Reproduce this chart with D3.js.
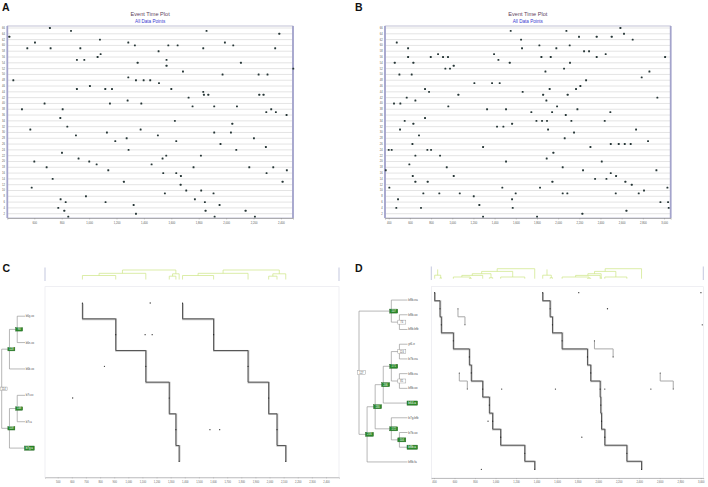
<!DOCTYPE html>
<html><head><meta charset="utf-8">
<script src="https://cdn.jsdelivr.net/npm/d3@7"></script>
<style>body{margin:0;background:#fff}svg{display:block}text{font-family:"Liberation Sans",Arial,sans-serif}</style>
</head><body><svg id="chart" width="708" height="487"></svg>
<script>
// ---------------- DATA ----------------
const rowTicksAB = [2,4,6,8,10,12,14,16,18,20,22,24,26,28,30,32,34,36,38,40,42,44,46,48,50,52,54,56,58,60,62,64,66];
const aXTicks = [600,800,1000,1200,1400,1600,1800,2000,2200,2400];
const bXTicks = [400,600,800,1000,1200,1400,1600,1800,2000,2200,2400,2600,2800,3000];
const cXTicks = [500,600,700,800,900,1000,1100,1200,1300,1400,1500,1600,1700,1800,1900,2000,2100,2200,2300,2400];
const dXTicks = [400,600,800,1000,1200,1400,1600,1800,2000,2200,2400,2600,2800,3000];

const aTimes = [714,868,1857,418,2388,1079,605,1286,1991,1334,1578,1646,2052,549,719,936,1833,2358,1507,1084,1062,911,965,1565,1354,2108,1565,2490,1685,1974,2237,2302,1286,447,1342,1398,1446,1510,1006,911,1118,1167,1600,1833,1838,1870,2242,2273,1726,1281,675,1152,1381,1755,1913,2079,510,807,2329,2293,2363,2441,790,1626,2045,841,571,1376,1130,1913,2035,904,1502,1274,2203,1191,1636,1959,2290,1288,2074,802,1563,1816,923,1536,600,1001,1055,1456,690,1762,2169,2344,1140,2443,1541,1636,2295,1670,734,1254,2412,1668,581,1709,1818,1553,1908,977,792,1772,829,1120,1845,1325,1952,775,819,1850,2142,1342,848,1916,2210];
const aRows  = [66,65,65,63,64,62,61,61,61,60,60,60,60,59,59,59,59,59,58,57,56,55,55,55,54,54,53,52,51,50,50,50,49,48,48,48,48,47,46,45,45,45,45,44,43,43,43,43,42,41,40,40,40,39,39,39,38,38,38,37,37,36,35,34,33,32,31,31,30,30,30,29,29,28,28,27,27,26,25,24,24,23,22,22,21,21,20,20,19,19,18,18,18,18,17,17,16,16,16,15,14,13,13,12,11,10,10,9,9,8,7,7,6,6,6,5,5,4,3,3,3,2,1,1,1];

const bTimes = [2588,1552,2078,2622,1650,2197,2364,2506,2704,476,1823,2109,583,1659,1983,2245,2292,866,1395,2449,583,797,913,960,1842,1930,2364,3010,1436,457,633,1543,2112,1014,935,979,2056,1880,2862,501,617,2789,2264,1209,1376,1448,2210,743,2169,1920,781,1665,1058,1858,2090,570,2937,652,1889,450,510,963,1990,1329,1508,2182,1747,1943,2493,2072,743,551,1795,1848,1895,2125,2440,633,1565,1423,1483,507,1905,2736,2150,686,2062,2849,624,2497,2572,2629,2685,1291,2305,400,428,765,800,1955,652,885,1892,1508,2412,595,948,2043,372,2235,2928,2497,627,1014,2547,2349,2456,652,768,1946,2635,2695,406,1473,1829,3032,2811,727,878,1071,1599,2043,2087,2544,2761,1203,488,1565,2966,3038,1256,472,705,1571,3044,2645,2229,1291,1801];
const bRows  = [66,65,65,64,62,63,63,63,62,61,60,60,59,59,59,58,58,57,57,57,56,56,56,56,56,56,56,56,55,54,54,54,54,53,52,52,52,51,51,50,50,49,48,47,47,47,46,45,45,45,44,44,43,43,43,42,42,41,41,40,40,39,39,38,38,38,37,37,37,36,35,34,34,34,34,34,34,33,33,32,32,31,31,31,30,29,28,27,26,26,26,26,26,25,25,24,24,24,24,23,22,22,21,20,20,19,18,18,17,17,17,16,15,15,15,14,14,13,13,13,13,12,11,11,11,11,10,9,9,9,9,9,9,9,9,8,7,7,6,6,5,4,4,4,4,3,2,1,1];

// panel C
const cLeafNames = ["b6g.ox","b6n.ox","b6b.ox","b7t.ox","b7t.a","b7g.a"];
const cLeafMarked = [false,false,false,false,false,true];
const cWhiteNodes = ["114"];
const cTree = {n:"114",c:[{n:"123",c:[{n:"90",c:[{l:0},{l:1}]},{l:2}]},{n:"118",c:[{n:"148",c:[{l:3},{l:4}]},{l:5}]}]};
const cSteps = [[675,911,1124,1290,1337,1360],[1384,1604,1848,1994,2053,2115]];
const cTopTree = [1.0,[0.65,[0.42,0,1],2],[0.6,[0.35,3,4],5]];
const cDotTimes = [1155,1119,1169,831,606,1578,1647];
const cDotRows  = [0,1,1,2,3,4,4];

// panel D
const dLeafNames = ["b8b.ea","b8b.ox","b8b.bfb","yt6.e","b7b.ea","b8b.ea","b8b.ox","b64.a","b7g.bfb","b7b.ox","b8b.a","b8b.fa"];
const dLeafMarked = [false,false,false,false,false,false,false,true,false,false,true,false];
const dWhiteNodes = ["127","74","124","81"];
const dTree = {n:"127",c:[{n:"107",c:[{l:0},{n:"74",c:[{l:1},{l:2}]}]},{n:"216",c:[{n:"130",c:[{n:"206",c:[{n:"171",c:[{n:"124",c:[{l:3},{l:4}]},{n:"81",c:[{l:5},{l:6}]}]},{l:7}]},{n:"172",c:[{l:8},{n:"104",c:[{l:9},{l:10}]}]}]},{l:11}]}]};
const dSteps = [[407,459,472,589,745,764,875,940,972,1050,1285,1382],[1460,1532,1555,1649,1896,1928,2020,2026,2033,2065,2280,2423]];
const dTopForest = [[0.35,0,[0.1,1,2]],[1.0,[0.73,[0.5,[0.33,[0.17,3,[0.05,4,5]],6],[0.1,7,8]],[0.17,9,10]],11]];
const dTopStems = [0.93,null];
const dExtraRows = [1,5,3,5];
const dExtraFrom = [634,647,1964,2605];
const dExtraTo   = [702,725,2146,2732];
const dDotTimes = [1811,3002,2091,3015,1060,1584,2065,2514,927,1841,862];
const dDotRows  = [0,0,1,2,6,6,6,6,8,9,11];

// ---------------- DRAWING ----------------
const svg = d3.select("#chart");
const fmt = d3.format(",");

function panelLabel(t, x, y){
  svg.append("text").attr("x",x).attr("y",y).text(t)
    .attr("font-size",10.5).attr("font-weight","bold").attr("fill","#111");
}

function eventPlot(times, rows, xDomain, xTicks, left, right){
  const top = 26, bottom = 218;
  const x = d3.scaleLinear().domain(xDomain).range([left,right]);
  const y = d3.scaleLinear().domain([0.52,66.69]).range([bottom,top]);
  const g = svg.append("g");
  const cx = (left+right)/2;
  g.append("text").attr("x",cx).attr("y",15.5).attr("text-anchor","middle")
    .attr("font-size",5.6).attr("fill","#5e3f5e").text("Event Time Plot");
  g.append("text").attr("x",cx).attr("y",23).attr("text-anchor","middle")
    .attr("font-size",4.6).attr("fill","#3a3ad0").text("All Data Points");
  g.append("rect").attr("x",left).attr("y",top).attr("width",right-left).attr("height",bottom-top)
    .attr("fill","#fff").attr("stroke","#9a9ab8").attr("stroke-width",0.6);
  g.selectAll("line.grid").data(rowTicksAB).join("line").attr("class","grid")
    .attr("x1",left).attr("x2",right).attr("y1",d=>y(d)).attr("y2",d=>y(d))
    .attr("stroke","#c8c8c8").attr("stroke-width",0.5);
  // side bars
  [left,right].forEach(xx=>g.append("line").attr("x1",xx).attr("x2",xx).attr("y1",top).attr("y2",bottom)
    .attr("stroke","#a4a4cc").attr("stroke-width",1.8));
  // y axis labels
  g.selectAll("text.yl").data(rowTicksAB).join("text").attr("class","yl")
    .attr("x",left-2.4).attr("y",d=>y(d)+0.9).attr("text-anchor","end")
    .attr("font-size",2.6).attr("fill","#555").text(d=>d);
  // x axis
  const ax = g.append("g").attr("transform",`translate(0,${bottom})`)
    .call(d3.axisBottom(x).tickValues(xTicks).tickFormat(fmt).tickSize(1.5).tickPadding(3));
  ax.select(".domain").attr("stroke","#888").attr("stroke-width",0.6);
  ax.selectAll(".tick line").attr("stroke","#888").attr("stroke-width",0.4);
  ax.selectAll("text").attr("font-size",2.7).attr("fill","#555").attr("font-family","Liberation Sans, Arial");
  // points
  g.selectAll("rect.pt").data(times).join("rect").attr("class","pt")
    .attr("x",(d)=>x(d)-0.95).attr("y",(d,i)=>y(rows[i])-0.95).attr("width",1.9).attr("height",1.9)
    .attr("rx",0.5).attr("fill","#263636");
}

eventPlot(aTimes, aRows, [403,2488], aXTicks, 7.3, 293);
eventPlot(bTimes, bRows, [365,3063], bXTicks, 385, 670.7);
panelLabel("A", 2, 11);
panelLabel("B", 355, 11);

function treePanel(o){
  const x = d3.scaleLinear().domain(o.xDomain).range([o.left,o.right]);
  const rowY = d3.scalePoint().domain(d3.range(o.names.length)).range([o.rowTop,o.rowBottom]);
  const g = svg.append("g");
  // main frame
  g.append("rect").attr("x",o.left).attr("y",o.plotTop).attr("width",o.right-o.left).attr("height",o.axisY-o.plotTop)
    .attr("fill","none").attr("stroke","#e4e4ec").attr("stroke-width",0.6);
  // top dendrogram frame
  [o.left,o.right].forEach(xx=>g.append("line").attr("x1",xx).attr("x2",xx).attr("y1",o.topY0).attr("y2",o.topY1)
    .attr("stroke","#aab0d0").attr("stroke-width",0.7));
  // axis
  const ax = g.append("g").attr("transform",`translate(0,${o.axisY})`)
    .call(d3.axisBottom(x).tickValues(o.ticks).tickFormat(fmt).tickSize(1.2).tickPadding(2.4));
  ax.select(".domain").attr("stroke","#999").attr("stroke-width",0.6);
  ax.selectAll(".tick line").attr("stroke","#999").attr("stroke-width",0.4);
  ax.selectAll("text").attr("font-size",2.6).attr("fill","#666").attr("font-family","Liberation Sans, Arial");

  // top dendrograms
  const hy = h => o.topBase - h*(o.topBase-o.topTop);
  o.steps.forEach(times=>{
    o.topForest.forEach((tree,ti)=>{
      function walk(node){
        if (typeof node === "number") return {x:x(times[node]), y:o.topBase};
        const A = walk(node[1]), B = walk(node[2]), yy = hy(node[0]);
        g.append("path").attr("d",`M${A.x},${A.y}V${yy}H${B.x}V${B.y}`)
          .attr("fill","none").attr("stroke","#cde584").attr("stroke-width",0.7);
        return {x:(A.x+B.x)/2, y:yy};
      }
      const r = walk(tree);
      const st = o.topStems ? o.topStems[ti] : null;
      if (st) g.append("line").attr("x1",r.x).attr("x2",r.x).attr("y1",r.y).attr("y2",hy(st))
        .attr("stroke","#cde584").attr("stroke-width",0.7);
    });
  });

  // extra short step pieces
  if (o.extraRows){
    o.extraRows.forEach((r,i)=>{
      const y0 = rowY(r), y1 = rowY(r+1), m=(y0+y1)/2;
      const x0 = x(o.extraFrom[i]), x1 = x(o.extraTo[i]);
      g.append("path").attr("d",`M${x0},${y0}V${m}H${x1}V${y1}`).attr("fill","none")
        .attr("stroke","#a8a8a8").attr("stroke-width",1);
      [[x0,y0],[x1,y1]].forEach(p=>g.append("circle").attr("cx",p[0]).attr("cy",p[1]).attr("r",0.55).attr("fill","#333"));
    });
  }
  // step lines
  o.steps.forEach(times=>{
    const pts = [];
    times.forEach((t,i)=>{
      const yy = rowY(i);
      if (i===0) pts.push([x(t),yy]);
      else { const m=(rowY(i-1)+yy)/2; pts.push([x(times[i-1]),m]); pts.push([x(t),m]); }
    });
    pts.push([x(times[times.length-1]), rowY(times.length-1)]);
    g.append("path").attr("d",d3.line()(pts)).attr("fill","none")
      .attr("stroke","#c4c4c4").attr("stroke-width",1.8).attr("transform","translate(0.4,0.4)");
    g.append("path").attr("d",d3.line()(pts)).attr("fill","none")
      .attr("stroke","#4a4a4a").attr("stroke-width",0.9);
    g.selectAll(null).data(times).join("circle").attr("cx",d=>x(d)).attr("cy",(d,i)=>rowY(i))
      .attr("r",0.6).attr("fill","#222");
  });
  // scattered dots
  g.selectAll(null).data(o.dotTimes).join("circle").attr("cx",d=>x(d)).attr("cy",(d,i)=>rowY(o.dotRows[i]))
    .attr("r",0.65).attr("fill","#333");

  // left tree
  const root = d3.hierarchy(o.tree, d=>d.c);
  d3.cluster().size([o.rowBottom-o.rowTop, o.treeRight-o.treeLeft]).separation(()=>1)(root);
  const X = d => o.treeLeft + d.y, Y = d => o.rowTop + d.x;
  root.descendants().forEach(nd=>{
    if (nd.children){
      const ys = nd.children.map(Y);
      g.append("line").attr("x1",X(nd)).attr("x2",X(nd)).attr("y1",d3.min(ys)).attr("y2",d3.max(ys))
        .attr("stroke","#888").attr("stroke-width",0.6);
      nd.children.forEach(ch=>g.append("line").attr("x1",X(nd)).attr("x2",X(ch)).attr("y1",Y(ch)).attr("y2",Y(ch))
        .attr("stroke","#888").attr("stroke-width",0.6));
    }
  });
  root.descendants().forEach(nd=>{
    if (nd.children){
      const white = o.white.includes(nd.data.n);
      const w = o.boxW, h = o.boxH;
      g.append("rect").attr("x",X(nd)-1.6).attr("y",Y(nd)-h/2).attr("width",w).attr("height",h)
        .attr("fill",white?"#fff":"#2b8a2b").attr("stroke",white?"#8a8a8a":"#1d5e1d").attr("stroke-width",0.4);
      g.append("text").attr("x",X(nd)-1.6+w/2).attr("y",Y(nd)+0.95).attr("text-anchor","middle")
        .attr("font-size",2.6).attr("fill",white?"#555":"#fff").text(nd.data.n);
    } else {
      const i = nd.data.l, name = o.names[i];
      if (o.marked[i]){
        const w = name.length*o.labelSize*0.52+2.5;
        g.append("rect").attr("x",X(nd)-0.5).attr("y",Y(nd)-2.1).attr("width",w).attr("height",4.2)
          .attr("fill","#2b8a2b").attr("stroke","#1d5e1d").attr("stroke-width",0.4);
        g.append("text").attr("x",X(nd)+0.8).attr("y",Y(nd)+1).attr("font-size",o.labelSize)
          .attr("fill","#fff").text(name);
      } else {
        g.append("text").attr("x",X(nd)+0.7).attr("y",Y(nd)+1).attr("font-size",o.labelSize)
          .attr("fill","#555").text(name);
      }
    }
  });
}

treePanel({xDomain:[410,2492], left:45, right:339, ticks:cXTicks, axisY:477.3, plotTop:286.7,
  rowTop:303, rowBottom:461.3, names:cLeafNames, marked:cLeafMarked, white:cWhiteNodes, tree:cTree,
  treeLeft:1.7, treeRight:25, boxW:7, boxH:3.4, labelSize:2.8,
  steps:cSteps, topForest:[cTopTree], topStems:null, topBase:279.5, topTop:270, topY0:267.5, topY1:281,
  dotTimes:cDotTimes, dotRows:cDotRows});

treePanel({xDomain:[374,3025], left:431.3, right:703.3, ticks:dXTicks, axisY:478, plotTop:286.7,
  rowTop:292.7, rowBottom:469.3, names:dLeafNames, marked:dLeafMarked, white:dWhiteNodes, tree:dTree,
  treeLeft:359, treeRight:407.5, boxW:8, boxH:4, labelSize:3.1,
  steps:dSteps, topForest:dTopForest, topStems:dTopStems, topBase:278.7, topTop:268.7, topY0:266.5, topY1:280,
  extraRows:dExtraRows, extraFrom:dExtraFrom, extraTo:dExtraTo,
  dotTimes:dDotTimes, dotRows:dDotRows});

panelLabel("C", 2.5, 272);
panelLabel("D", 355, 272);
</script></body></html>
